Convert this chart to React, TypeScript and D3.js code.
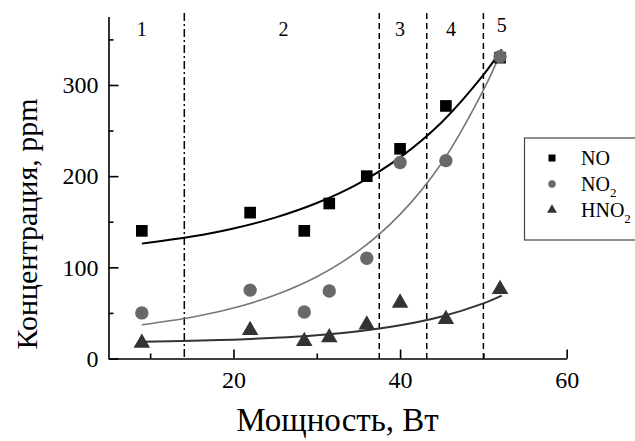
import React, { useRef, useEffect } from "react";
import * as d3 from "d3";

// measured points (power, W)
const power = [9, 22, 28.5, 31.5, 36, 40, 45.5, 52];
const noValues = [140, 160, 140, 170, 200, 230, 277, 330];
const no2Values = [50, 75, 51, 74, 110, 215, 217, 331];
const hno2Values = [17, 31, 19, 23, 37, 61, 43, 76];

// fitted curves
const fitX = [9, 15, 20, 25, 30, 35, 40, 45, 50, 52.2];
const noFit = [126, 133.7, 142.6, 154.5, 170.5, 191.9, 220.6, 259.2, 311, 339];
const no2Fit = [37, 45.3, 55.3, 69.6, 89.7, 118, 158.1, 214.5, 294.3, 338];
const hno2Fit = [18.4, 19.4, 20.7, 22.7, 25.6, 29.9, 36.4, 46.1, 60.5, 69];

// regime boundaries and labels
const boundaries = [14.1, 37.5, 43.2, 50];
const boundaryStyle = ["dashdot", "dash", "dash", "dash"];
const regionLabels = ["1", "2", "3", "4", "5"];
const regionX = [9, 26, 40, 46.1, 52.2];

const xTicks = [20, 40, 60];
const xMinor = [10, 30, 50];
const yTicks = [0, 100, 200, 300];
const yMinor = [50, 150, 250, 350];

const FONT = "'Liberation Serif', 'Times New Roman', serif";

export default function App() {
  const svgRef = useRef<SVGSVGElement>(null);

  useEffect(() => {
    const svg = d3.select(svgRef.current);
    svg.selectAll("*").remove();

    const x = d3.scaleLinear().domain([5, 60]).range([108.5, 566.7]);
    const y = d3.scaleLinear().domain([0, 375]).range([358.5, 16.6]);

    // boundary lines
    boundaries.forEach((b, i) => {
      svg
        .append("line")
        .attr("x1", x(b))
        .attr("x2", x(b))
        .attr("y1", 13)
        .attr("y2", y(0))
        .attr("stroke", "#000")
        .attr("stroke-width", 1.5)
        .attr("stroke-dasharray", boundaryStyle[i] === "dash" ? "6,4" : "8,3,2,3");
    });

    regionLabels.forEach((t, i) => {
      svg
        .append("text")
        .attr("x", x(regionX[i]))
        .attr("y", i === 4 ? 32 : 36)
        .attr("text-anchor", "middle")
        .style("font-family", FONT)
        .style("font-size", "20px")
        .text(t);
    });

    // fit curves
    const line = d3
      .line<number>()
      .x((d, i) => x(fitX[i]))
      .y((d) => y(d))
      .curve(d3.curveCatmullRom);

    const fits = [
      { data: noFit, color: "#000", w: 2 },
      { data: no2Fit, color: "#777", w: 1.6 },
      { data: hno2Fit, color: "#333", w: 2 },
    ];
    fits.forEach((f) => {
      svg
        .append("path")
        .attr("d", line(f.data))
        .attr("fill", "none")
        .attr("stroke", f.color)
        .attr("stroke-width", f.w);
    });

    // markers
    const series = [
      { values: noValues, type: d3.symbolSquare, size: 136, color: "#000" },
      { values: no2Values, type: d3.symbolCircle, size: 140, color: "#696969" },
      { values: hno2Values, type: d3.symbolTriangle, size: 118, color: "#333" },
    ];
    series.forEach((s) => {
      svg
        .append("g")
        .selectAll("path")
        .data(s.values)
        .enter()
        .append("path")
        .attr("transform", (d, i) => `translate(${x(power[i])},${y(d)})`)
        .attr("d", d3.symbol().type(s.type).size(s.size)())
        .attr("fill", s.color);
    });

    // axes
    const yAxis = svg
      .append("g")
      .attr("transform", `translate(${x(5)},0)`)
      .call(d3.axisLeft(y).tickValues(yTicks).tickSize(-10).tickSizeOuter(0).tickPadding(10));
    svg
      .append("g")
      .attr("transform", `translate(${x(5)},0)`)
      .call(d3.axisLeft(y).tickValues(yMinor).tickSize(-5).tickSizeOuter(0).tickFormat(() => ""))
      .select(".domain")
      .remove();

    const xAxis = svg
      .append("g")
      .attr("transform", `translate(0,${y(0)})`)
      .call(d3.axisBottom(x).tickValues(xTicks).tickSize(-9).tickSizeOuter(0).tickPadding(12));
    svg
      .append("g")
      .attr("transform", `translate(0,${y(0)})`)
      .call(d3.axisBottom(x).tickValues(xMinor).tickSize(-5).tickSizeOuter(0).tickFormat(() => ""))
      .select(".domain")
      .remove();

    svg.selectAll(".domain, .tick line").attr("stroke", "#000").attr("stroke-width", 1.6);
    [yAxis, xAxis].forEach((a) =>
      a.selectAll("text").style("font-family", FONT).style("font-size", "24px").attr("fill", "#000")
    );

    // axis titles
    svg
      .append("text")
      .attr("transform", "translate(37,224) rotate(-90)")
      .attr("text-anchor", "middle")
      .style("font-family", FONT)
      .style("font-size", "30px")
      .text("Концентрация, ppm");

    svg
      .append("text")
      .attr("x", 337.5)
      .attr("y", 431)
      .attr("text-anchor", "middle")
      .style("font-family", FONT)
      .style("font-size", "33px")
      .text("Мощность, Вт");

    // legend
    const legend = svg.append("g");
    legend
      .append("rect")
      .attr("x", 524.5)
      .attr("y", 138)
      .attr("width", 200)
      .attr("height", 102)
      .attr("fill", "#fff")
      .attr("stroke", "#444")
      .attr("stroke-width", 1.2);

    const legendItems = [
      { name: "NO", sub: "", type: d3.symbolSquare, size: 49, color: "#000" },
      { name: "NO", sub: "2", type: d3.symbolCircle, size: 45, color: "#696969" },
      { name: "HNO", sub: "2", type: d3.symbolTriangle, size: 42, color: "#333" },
    ];
    legendItems.forEach((it, i) => {
      const cy = 158 + i * 26;
      legend
        .append("path")
        .attr("transform", `translate(552,${cy})`)
        .attr("d", d3.symbol().type(it.type).size(it.size)())
        .attr("fill", it.color);
      const t = legend
        .append("text")
        .attr("x", 581)
        .attr("y", cy + 7)
        .style("font-family", FONT)
        .style("font-size", "20px")
        .text(it.name);
      if (it.sub) {
        t.append("tspan").attr("dy", 6).style("font-size", "13px").text(it.sub);
      }
    });
  }, []);

  return (
    <svg
      ref={svgRef}
      width={635}
      height={441}
      style={{ position: "absolute", left: 0, top: 0, background: "#fff" }}
    ></svg>
  );
}
